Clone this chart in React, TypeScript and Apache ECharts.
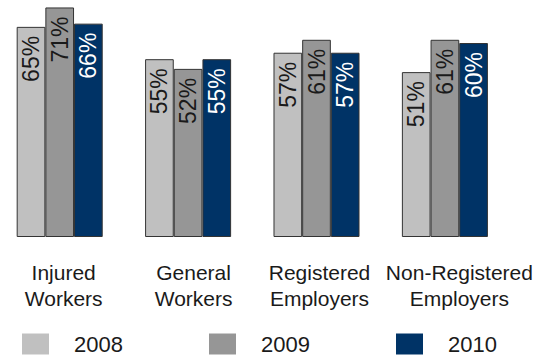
import React, { useEffect, useRef } from "react";
import * as echarts from "echarts";

const categories = ["Injured\nWorkers", "General\nWorkers", "Registered\nEmployers", "Non-Registered\nEmployers"];
const years = ["2008", "2009", "2010"];
const values2008 = [65, 55, 57, 51];
const values2009 = [71, 52, 61, 61];
const values2010 = [66, 55, 57, 60];

const colors = ["#c0c0c0", "#969696", "#003366"];
const labelColors = ["#1a1a1a", "#1a1a1a", "#ffffff"];
const legendLefts = [27, 214, 401];
// left padding nudges each category caption sideways (shift = padding / 2)
const captionNudge = [8, 11, 6, 29];

export default function App() {
  const ref = useRef<HTMLDivElement>(null);

  useEffect(() => {
    document.body.style.margin = "0";
    const chart = echarts.init(ref.current!, null, { renderer: "svg" });
    const seriesData = [values2008, values2009, values2010];
    chart.setOption({
      animation: false,
      textStyle: { fontFamily: "Arial" },
      grid: { left: 0.5, right: 33.9, top: 1, bottom: 121 },
      xAxis: {
        type: "category",
        data: categories.map((c, i) => ({
          value: c,
          textStyle: { padding: [0, 0, 0, captionNudge[i]] },
        })),
        axisLine: { show: false },
        axisTick: { show: false },
        axisLabel: {
          color: "#1a1a1a",
          fontFamily: "Arial",
          fontSize: 21,
          lineHeight: 26,
          margin: 22,
          interval: 0,
        },
      },
      yAxis: {
        type: "value",
        min: 0,
        max: 73,
        show: false,
        splitLine: { show: false },
      },
      legend: years.map((y, i) => ({
        data: [y],
        left: legendLefts[i],
        top: 333,
        padding: 0,
        itemWidth: 27,
        itemHeight: 21,
        icon: "rect",
        itemStyle: { borderWidth: 0 },
        textStyle: {
          fontFamily: "Arial",
          fontSize: 22,
          lineHeight: 22,
          color: "#1a1a1a",
          padding: [0, 0, 0, 20],
        },
        selectedMode: false,
      })),
      series: years.map((y, i) => ({
        name: y,
        type: "bar",
        data: seriesData[i],
        barGap: "0%",
        barCategoryGap: "33%",
        itemStyle: { color: colors[i], borderColor: "#333333", borderWidth: 1 },
        label: {
          show: true,
          position: "insideTop",
          rotate: 90,
          align: "right",
          verticalAlign: "middle",
          distance: 9,
          fontFamily: "Arial",
          fontSize: 23,
          color: labelColors[i],
          formatter: "{c}%",
        },
      })),
    });
    return () => chart.dispose();
  }, []);

  return <div ref={ref} style={{ width: 548, height: 358, marginLeft: -5 }} />;
}
